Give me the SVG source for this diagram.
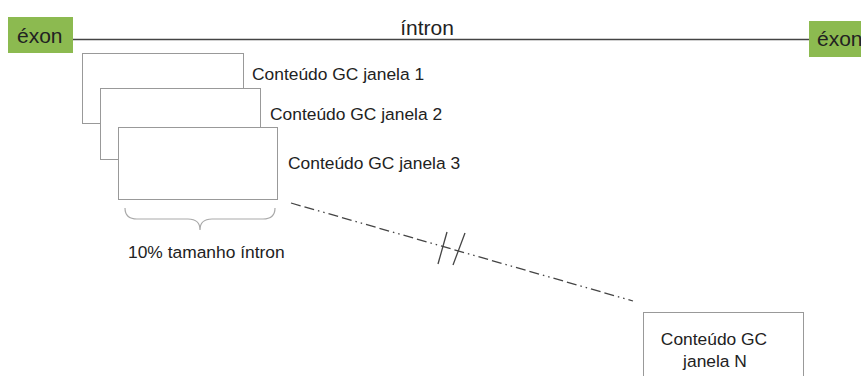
<svg xmlns="http://www.w3.org/2000/svg" width="861" height="376" viewBox="0 0 861 376">
  <style>
    .lbl { font-family: "Liberation Sans", Arial, sans-serif; font-size: 17.4px; fill: #222; }
    .big { font-family: "Liberation Sans", Arial, sans-serif; font-size: 21px; fill: #222; }
    .exon { fill: #8cba50; }
    .win { fill: #fff; stroke: #999; stroke-width: 1; }
    .brace { fill: none; stroke: #aaa; stroke-width: 1.2; }
    .gap { fill: none; stroke: #444; stroke-width: 1.3; stroke-dasharray: 10 4 10 4 1.5 4 1.5 4; }
    .slash { stroke: #444; stroke-width: 1.3; }
  </style>

  <g id="connectors">
    <line x1="73" y1="39.5" x2="809" y2="39.5" stroke="#444" stroke-width="1.5"/>
    <line class="gap" x1="291" y1="203" x2="633" y2="301"/>
    <line class="slash" x1="447" y1="232" x2="438" y2="264"/>
    <line class="slash" x1="465" y1="233" x2="453" y2="265"/>
  </g>

  <g id="exon-left">
    <rect class="exon" x="8" y="17" width="65" height="36"/>
    <text class="big" x="17" y="43">éxon</text>
  </g>

  <g id="intron-label">
    <text class="big" x="427" y="35" text-anchor="middle">íntron</text>
  </g>

  <g id="exon-right">
    <rect class="exon" x="809" y="21" width="60" height="36"/>
    <text class="big" x="817" y="46">éxon</text>
  </g>

  <g id="window-1">
    <rect class="win" x="82.5" y="53.5" width="161" height="70"/>
    <text class="lbl" x="252" y="80">Conteúdo GC janela 1</text>
  </g>

  <g id="window-2">
    <rect class="win" x="100.5" y="88.5" width="160" height="71"/>
    <text class="lbl" x="270" y="120">Conteúdo GC janela 2</text>
  </g>

  <g id="window-3">
    <rect class="win" x="118.5" y="127.5" width="159" height="72"/>
    <text class="lbl" x="288" y="169">Conteúdo GC janela 3</text>
  </g>

  <g id="window-size">
    <path class="brace" d="M125,208 Q125,219 137,219 L188,219 Q200,219 200,230 Q200,219 212,219 L263,219 Q275,219 275,208"/>
    <text class="lbl" x="128" y="258">10% tamanho íntron</text>
  </g>

  <g id="window-n">
    <rect class="win" x="643.5" y="312.5" width="160" height="80"/>
    <text class="lbl" x="714" y="345" text-anchor="middle">Conteúdo GC</text>
    <text class="lbl" x="715" y="367" text-anchor="middle">janela N</text>
  </g>
</svg>
